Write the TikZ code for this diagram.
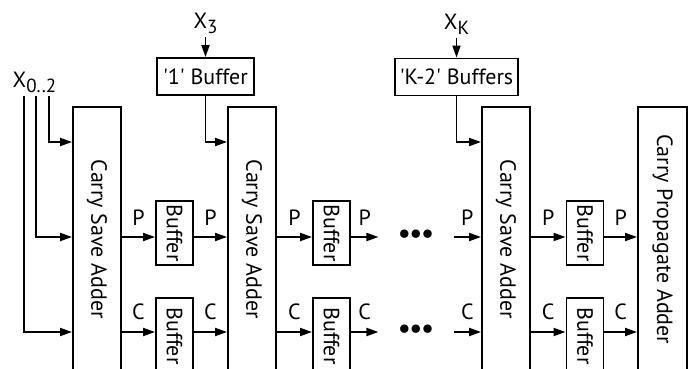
\documentclass[tikz,border=0pt]{standalone}
\usepackage{fontspec}
\setmainfont{PT Sans}
\usepackage{graphicx}
\usetikzlibrary{positioning,arrows.meta}
\newcommand{\vlabel}[1]{\rotatebox{-90}{#1}}
\newcommand{\lowidx}[1]{\raisebox{-5pt}{\fontsize{19}{20}\selectfont#1}}
\tikzset{
  adder/.style={rectangle,draw,line width=1.9pt,minimum width=48pt,minimum height=265pt,inner sep=0pt},
  buf/.style={rectangle,draw,line width=1.9pt,minimum width=37pt,inner sep=0pt},
  inbuf/.style={rectangle,draw,line width=1.9pt,minimum height=37pt,inner sep=0pt},
  sig/.style={inner sep=3pt},
  tag/.style={above=9pt,inner sep=2pt},
  bus/.style={-{Triangle[length=12pt,width=8pt]},line width=1.9pt}
}

\begin{document}
\begin{tikzpicture}[x=1pt,y=-1pt,node distance=31pt,font=\fontsize{22}{26}\selectfont]
  \useasboundingbox (0,0) rectangle (696,369);
  \coordinate (xrow) at (0,142);
  \coordinate (prow) at (0,237);
  \coordinate (crow) at (0,332);
  % adders
  \node[adder] (csa1) at (97,239.5) {\vlabel{Carry Save Adder}};
  \node[adder] (csa2) at (252,239.5) {\vlabel{Carry Save Adder}};
  \node[adder] (csa3) at (506,239.5) {\vlabel{Carry Save Adder}};
  \node[adder,minimum width=49pt] (cpa) at (662.5,239.5) {\vlabel{Carry Propagate Adder}};
  % pipeline buffers
  \node[buf,minimum height=64pt] (bufp1) at (174.5,233) {\vlabel{Buffer}};
  \node[buf,minimum height=76pt,below=of bufp1] (bufc1) {\vlabel{Buffer}};
  \node[buf,minimum height=64pt] (bufp2) at (331.5,233) {\vlabel{Buffer}};
  \node[buf,minimum height=76pt,below=of bufp2] (bufc2) {\vlabel{Buffer}};
  \node[buf,minimum height=64pt] (bufp3) at (585,233) {\vlabel{Buffer}};
  \node[buf,minimum height=76pt,below=of bufp3] (bufc3) {\vlabel{Buffer}};
  \node[inner xsep=19pt,inner ysep=0pt,font=\fontsize{30}{30}\selectfont] (dotsp) at (416,237) {\textbullet\hspace{-2pt}\textbullet\hspace{-2pt}\textbullet};
  \node[inner xsep=19pt,inner ysep=0pt,font=\fontsize{30}{30}\selectfont] (dotsc) at (416,332) {\textbullet\hspace{-2pt}\textbullet\hspace{-2pt}\textbullet};
  % operand inputs
  \node[inbuf,minimum width=97pt] (buf1) at (205.5,76.5) {\textquotesingle 1\textquotesingle{} Buffer};
  \node[inbuf,minimum width=123pt] (bufk) at (456.5,77) {\textquotesingle K-2\textquotesingle{} Buffers};
  \node[sig,above=20pt of buf1] (x3) {X\lowidx{3}};
  \node[sig,above=20pt of bufk] (xk) {X\lowidx{K}};
  \node[sig] (x012) at (34.5,82) {X\lowidx{0..2}};
  \draw[bus] (x3) -- (buf1);
  \draw[bus] (xk) -- (bufk);
  \draw[bus] (buf1) |- (csa2.west |- xrow);
  \draw[bus] (bufk) |- (csa3.west |- xrow);
  \draw[bus] ([xshift=14.5pt]x012.south) |- (csa1.west |- xrow);
  \draw[bus] ([xshift=1.5pt]x012.south) |- (csa1.west |- prow);
  \draw[bus] ([xshift=-10.5pt]x012.south) |- (csa1.west |- crow);
  % partial sums
  \draw[bus] (csa1.east |- prow) -- node[tag] {P} (bufp1.west |- prow);
  \draw[bus] (bufp1.east |- prow) -- node[tag] {P} (csa2.west |- prow);
  \draw[bus] (csa2.east |- prow) -- node[tag] {P} (bufp2.west |- prow);
  \draw[bus] (bufp2.east |- prow) -- node[tag] {P} (dotsp.west);
  \draw[bus] (dotsp.east) -- node[tag] {P} (csa3.west |- prow);
  \draw[bus] (csa3.east |- prow) -- node[tag] {P} (bufp3.west |- prow);
  \draw[bus] (bufp3.east |- prow) -- node[tag] {P} (cpa.west |- prow);
  % carries
  \draw[bus] (csa1.east |- crow) -- node[tag] {C} (bufc1.west |- crow);
  \draw[bus] (bufc1.east |- crow) -- node[tag] {C} (csa2.west |- crow);
  \draw[bus] (csa2.east |- crow) -- node[tag] {C} (bufc2.west |- crow);
  \draw[bus] (bufc2.east |- crow) -- node[tag] {C} (dotsc.west);
  \draw[bus] (dotsc.east) -- node[tag] {C} (csa3.west |- crow);
  \draw[bus] (csa3.east |- crow) -- node[tag] {C} (bufc3.west |- crow);
  \draw[bus] (bufc3.east |- crow) -- node[tag] {C} (cpa.west |- crow);
\end{tikzpicture}
\end{document}
